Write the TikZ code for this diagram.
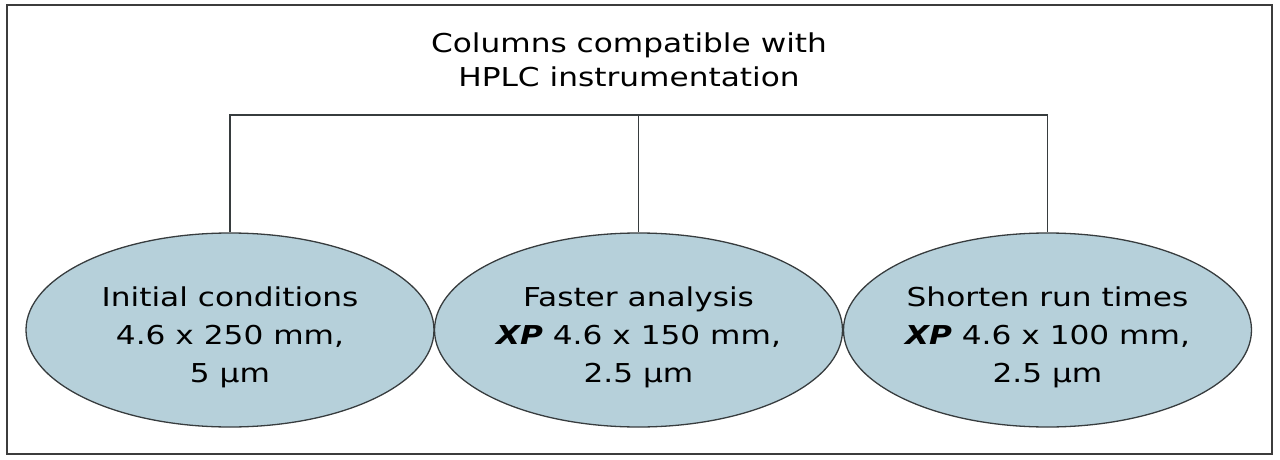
\documentclass[tikz,border=0pt]{standalone}
\usepackage{fontspec}
\setmainfont[FakeStretch=1.2]{DejaVu Sans}
\usetikzlibrary{shapes.geometric}
\definecolor{ellfill}{RGB}{182,208,218}
\definecolor{ellline}{RGB}{55,60,62}
\definecolor{frameline}{RGB}{60,60,60}
\newcommand{\toppad}{\rule{0pt}{34pt}}
\tikzset{
  colellipse/.style={ellipse, draw=ellline, line width=1.3pt, fill=ellfill,
    minimum width=408pt, minimum height=194pt, inner sep=0pt, align=center,
    font=\fontsize{26}{38}\selectfont},
  conn/.style={draw=ellline, line width=1.3pt},
  titletext/.style={align=center, font=\fontsize{26}{34}\selectfont}
}
\begin{document}
\begin{tikzpicture}[x=1pt,y=-1pt]
\useasboundingbox (0,0) rectangle (1280,460);
\draw[frameline, line width=2pt] (7,5) rectangle (1272,454);
\node[titletext] (title) at (629,60) {Columns compatible with\\HPLC instrumentation};
\node[colellipse] (e1) at (230,330) {\toppad Initial conditions\\4.6 x 250 mm,\\5 µm};
\node[colellipse] (e2) at (638.5,330) {\toppad Faster analysis\\\textbf{\textit{XP}} 4.6 x 150 mm,\\2.5 µm};
\node[colellipse] (e3) at (1047.5,330) {\toppad Shorten run times\\\textbf{\textit{XP}} 4.6 x 100 mm,\\2.5 µm};
\coordinate (bar) at (638.5,115);
\draw[conn] (e1.north) |- (bar) -| (e3.north);
\draw[conn] (bar) -- (e2.north);
\end{tikzpicture}
\end{document}
